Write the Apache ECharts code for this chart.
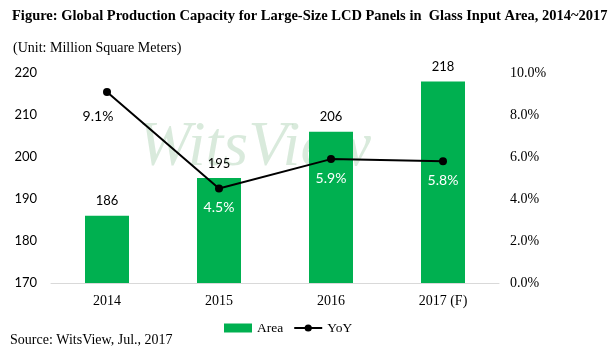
<!DOCTYPE html>
<html>
<head>
<meta charset="utf-8">
<script src="https://cdn.jsdelivr.net/npm/echarts@6/dist/echarts.min.js"></script>
<style>
  html, body { margin: 0; padding: 0; background: #fff; }
  #chart { width: 614px; height: 353px; }
</style>
</head>
<body>
<div id="chart"></div>
<script>
var years = ['2014', '2015', '2016', '2017 (F)'];
var areaValues = [186, 195, 206, 218];
var yoyValues = [9.1, 4.5, 5.9, 5.8];
var leftTicks = { min: 170, max: 220, interval: 10 };
var rightTicks = { min: 0, max: 10, interval: 2 };

var serif = 'Liberation Serif, DejaVu Serif, serif';
var sans = 'Lato, Liberation Sans, sans-serif';

var chart = echarts.init(document.getElementById('chart'));

chart.setOption({
  backgroundColor: '#fff',
  animation: false,
  title: [{
    text: 'Figure: Global Production Capacity for Large-Size LCD Panels in  Glass Input Area, 2014~2017',
    left: 7, top: 4,
    textStyle: { fontFamily: serif, fontSize: 14.5, fontWeight: 'bold', color: '#000' }
  }, {
    text: '(Unit: Million Square Meters)',
    left: 8, top: 36,
    textStyle: { fontFamily: serif, fontSize: 14, fontWeight: 'normal', color: '#000' }
  }, {
    text: 'Source: WitsView, Jul., 2017',
    left: 5, top: 328,
    textStyle: { fontFamily: serif, fontSize: 14, fontWeight: 'normal', color: '#000' }
  }],
  graphic: [{
    type: 'text',
    left: 138, top: 116,
    z: 0,
    style: {
      text: 'WitsView',
      font: 'italic 64px ' + serif,
      fill: 'rgba(140, 190, 150, 0.33)'
    }
  }],
  legend: {
    bottom: 13, left: 219,
    itemWidth: 28, itemHeight: 9, itemGap: 10,
    textStyle: { fontFamily: serif, fontSize: 13.5, color: '#000' },
    data: [
      { name: 'Area', icon: 'rect' },
      { name: 'YoY' }
    ]
  },
  grid: { left: 51, right: 115, top: 73, bottom: 70 },
  xAxis: {
    type: 'category',
    data: years,
    axisLine: { lineStyle: { color: '#d9d9d9' } },
    axisTick: { show: false },
    axisLabel: { fontFamily: serif, fontSize: 14, color: '#000', margin: 11 }
  },
  yAxis: [{
    type: 'value',
    min: leftTicks.min, max: leftTicks.max, interval: leftTicks.interval,
    splitLine: { show: false },
    axisLine: { show: false },
    axisTick: { show: false },
    axisLabel: { fontFamily: sans, fontSize: 13, color: '#000', margin: 14 }
  }, {
    type: 'value',
    min: rightTicks.min, max: rightTicks.max, interval: rightTicks.interval,
    splitLine: { show: false },
    axisLine: { show: false },
    axisTick: { show: false },
    axisLabel: {
      fontFamily: serif, fontSize: 14, color: '#000', margin: 11,
      formatter: function (v) { return v.toFixed(1) + '%'; }
    }
  }],
  series: [{
    name: 'Area',
    type: 'bar',
    data: areaValues,
    barWidth: 44,
    itemStyle: { color: '#00b050' },
    label: {
      show: true, position: 'top', distance: 8,
      fontFamily: sans, fontSize: 13, color: '#000'
    }
  }, {
    name: 'YoY',
    type: 'line',
    yAxisIndex: 1,
    data: yoyValues.map(function (v, i) {
      var d = { value: v };
      if (i === 0) {
        d.label = { color: '#000', offset: [-9, 6] };
      }
      return d;
    }),
    symbol: 'circle',
    symbolSize: 8,
    lineStyle: { color: '#000', width: 2 },
    itemStyle: { color: '#000' },
    label: {
      show: true, position: 'bottom', distance: 8,
      fontFamily: sans, fontSize: 14, color: '#fff',
      formatter: function (p) { return p.value.toFixed(1) + '%'; }
    },
    z: 3
  }]
});
</script>
</body>
</html>
